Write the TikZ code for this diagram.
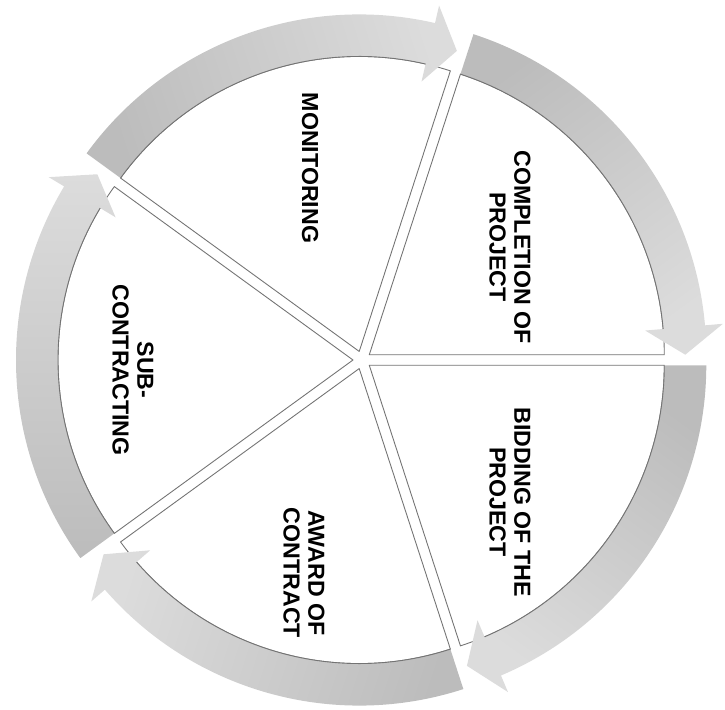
\documentclass[tikz,border=0pt]{standalone}
\usepackage{fontspec}
\setmainfont{Liberation Sans}
\definecolor{banddark}{RGB}{188,188,188}
\definecolor{bandlight}{RGB}{220,220,220}
\definecolor{edgegray}{RGB}{115,115,115}
\tikzset{
  wedge/.style={fill=white,draw=edgegray,line width=0.5pt,line join=round},
  rim/.style={draw=edgegray,line width=0.5pt},
  lbl/.style={font=\bfseries\fontsize{13.2}{14}\selectfont,align=center,rotate=-90,inner sep=0pt}
}
\begin{document}
\begin{tikzpicture}
\useasboundingbox (-7.24,-6.98) rectangle (7.26,7.2);
% pie slices, pushed out a little from the middle
\foreach \mid in {36,108,180,252,324} {
  \pgfmathsetmacro{\st}{\mid+36}
  \pgfmathsetmacro{\en}{\mid-36}
  \draw[wedge,shift={(\mid:0.18)}] (0,0) -- (\st:5.9) arc[start angle=\st,end angle=\en,radius=5.9] -- cycle;
}
% curved arrows round each slice
\foreach \mid in {36,108,180,252,324} {
  \pgfmathsetmacro{\st}{\mid+36}
  \pgfmathsetmacro{\en}{\mid-36}
  \pgfmathsetmacro{\hd}{\mid-31}
  \begin{scope}[shift={(\mid:0.18)}]
    \shade[top color=banddark,bottom color=bandlight,shading angle=\mid]
      (\st:5.9) -- (\st:6.74) arc[start angle=\st,end angle=\hd,radius=6.74]
      -- (\hd:7.1) -- (\en:6.32) -- (\hd:5.54) -- (\hd:5.9)
      arc[start angle=\hd,end angle=\st,radius=5.9] -- cycle;
    \draw[rim] (\st:5.9) arc[start angle=\st,end angle=\hd,radius=5.9];
  \end{scope}
}
\node[lbl] (monit) at (-1.04,3.84) {MONITORING};
\node[lbl] (compl) at (2.96,2.26) {COMPLETION OF\\PROJECT};
\node[lbl] (bid) at (2.96,-2.84) {BIDDING OF THE\\PROJECT};
\node[lbl] (award) at (-1.16,-4.26) {AWARD OF\\CONTRACT};
\node[lbl] (sub) at (-4.58,-0.20) {SUB-\\CONTRACTING};
\end{tikzpicture}
\end{document}
